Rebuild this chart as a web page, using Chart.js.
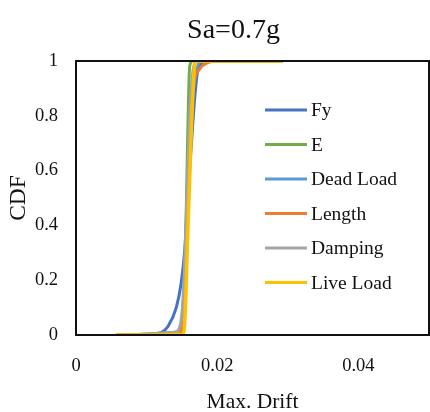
<!DOCTYPE html>
<html>
<head>
<meta charset="utf-8">
<script src="https://cdn.jsdelivr.net/npm/chart.js@4.4.1/dist/chart.umd.min.js"></script>
<style>
html,body{margin:0;padding:0;background:#fff;}
#wrap{position:relative;width:430px;height:412px;}
</style>
</head>
<body>
<div id="wrap"><canvas id="c" width="430" height="412"></canvas></div>
<script>
// ---- data ----
const seriesNames = ["Fy", "E", "Dead Load", "Length", "Damping", "Live Load"];
const seriesColors = ["#4472C4", "#70AD47", "#5B9BD5", "#ED7D31", "#A5A5A5", "#FFC000"];

const fyX = [0.0057, 0.0110, 0.0121, 0.0130, 0.0142, 0.0149, 0.0154, 0.0158, 0.0163, 0.0168, 0.0172, 0.0177, 0.0185, 0.0293];
const fyY = [0, 0.005, 0.01, 0.03, 0.10, 0.19, 0.31, 0.49, 0.68, 0.86, 0.96, 0.99, 1, 1];

const eX = [0.0057, 0.0148, 0.0152, 0.0155, 0.0158, 0.0161, 0.0165, 0.0293];
const eY = [0, 0.005, 0.05, 0.30, 0.70, 0.98, 1, 1];

const deadX = [0.0057, 0.0140, 0.0150, 0.0155, 0.0160, 0.0165, 0.0170, 0.0180, 0.0293];
const deadY = [0, 0.01, 0.05, 0.30, 0.60, 0.85, 0.96, 1, 1];

const lengthX = [0.0057, 0.0145, 0.0150, 0.0154, 0.0158, 0.0162, 0.0167, 0.0175, 0.0188, 0.0200, 0.0293];
const lengthY = [0, 0.005, 0.04, 0.20, 0.50, 0.78, 0.92, 0.97, 0.995, 1, 1];

const dampX = [0.0057, 0.0140, 0.0148, 0.0153, 0.0157, 0.0161, 0.0165, 0.0170, 0.0293];
const dampY = [0, 0.01, 0.04, 0.20, 0.50, 0.80, 0.95, 1, 1];

const liveX = [0.0057, 0.0152, 0.0155, 0.0158, 0.0162, 0.0166, 0.0169, 0.0293];
const liveY = [0, 0.003, 0.10, 0.35, 0.65, 0.90, 1, 1];

const xTicks = [0, 0.02, 0.04];
const yTicks = [0, 0.2, 0.4, 0.6, 0.8, 1];
const titleText = "Sa=0.7g";
const xTitle = "Max. Drift";
const yTitle = "CDF";

// ---- build ----
const allX = [fyX, eX, deadX, lengthX, dampX, liveX];
const allY = [fyY, eY, deadY, lengthY, dampY, liveY];
const FONT = "'Liberation Serif', 'Times New Roman', serif";

const datasets = seriesNames.map((name, i) => ({
  label: name,
  data: allX[i].map((x, k) => ({x: x, y: allY[i][k]})),
  borderColor: seriesColors[i],
  backgroundColor: seriesColors[i],
  borderWidth: i === 5 ? 3.5 : 3,
  pointRadius: 0,
  fill: false,
  cubicInterpolationMode: 'monotone',
  order: seriesNames.length - i
}));

const boxPlugin = {
  id: 'box',
  afterDatasetsDraw(chart) {
    const a = chart.chartArea, ctx = chart.ctx;
    ctx.save();
    ctx.strokeStyle = '#111';
    ctx.lineWidth = 2;
    ctx.strokeRect(a.left, a.top, a.right - a.left, a.bottom - a.top);
    ctx.restore();
  }
};

const titlePlugin = {
  id: 'customTitle',
  afterDraw(chart) {
    const a = chart.chartArea, ctx = chart.ctx;
    ctx.save();
    ctx.font = "28px " + FONT;
    ctx.fillStyle = '#111';
    ctx.textAlign = 'center';
    ctx.textBaseline = 'alphabetic';
    ctx.fillText(titleText, a.left + 157.5, a.top - 23);
    ctx.restore();
  }
};

const legendPlugin = {
  id: 'customLegend',
  afterDraw(chart) {
    const a = chart.chartArea, ctx = chart.ctx;
    ctx.save();
    const x0 = a.left + 189, x1 = a.left + 231, tx = a.left + 235;
    const y0 = a.top + 49, dy = 34.5;
    ctx.font = "19.5px " + FONT;
    ctx.textBaseline = 'middle';
    ctx.textAlign = 'left';
    chart.data.datasets.forEach((ds, i) => {
      const y = y0 + i * dy;
      ctx.strokeStyle = ds.borderColor;
      ctx.lineWidth = 3;
      ctx.beginPath(); ctx.moveTo(x0, y); ctx.lineTo(x1, y); ctx.stroke();
      ctx.fillStyle = '#111';
      ctx.fillText(ds.label, tx, y + 1);
    });
    ctx.restore();
  }
};

new Chart(document.getElementById('c'), {
  type: 'line',
  data: { datasets: datasets },
  options: {
    responsive: false,
    animation: false,
    layout: { padding: { left: 0, right: 1, top: 61, bottom: 0 } },
    plugins: {
      legend: { display: false },
      tooltip: { enabled: false },
      title: { display: false }
    },
    scales: {
      x: {
        type: 'linear', min: 0, max: 0.05,
        afterBuildTicks: (s) => { s.ticks = xTicks.map(v => ({value: v})); },
        afterFit: (s) => { s.height = 77; },
        grid: { display: false, drawTicks: false },
        border: { display: false },
        ticks: { color: '#111', padding: 20, maxRotation: 0, font: { family: FONT, size: 18.5 },
                 callback: (v) => String(v) },
        title: { display: true, text: xTitle, color: '#111', padding: { top: 0, bottom: -3 },
                 font: { family: FONT, size: 21.5 } }
      },
      y: {
        type: 'linear', min: 0, max: 1,
        afterBuildTicks: (s) => { s.ticks = yTicks.map(v => ({value: v})); },
        afterFit: (s) => { s.width = 76; },
        grid: { display: false, drawTicks: false },
        border: { display: false },
        ticks: { color: '#111', padding: 18, font: { family: FONT, size: 18.5 },
                 callback: (v) => String(v) },
        title: { display: true, text: yTitle, color: '#111', padding: { top: 5, bottom: 0 },
                 font: { family: FONT, size: 23.5 } }
      }
    }
  },
  plugins: [boxPlugin, titlePlugin, legendPlugin]
});
</script>
</body>
</html>
